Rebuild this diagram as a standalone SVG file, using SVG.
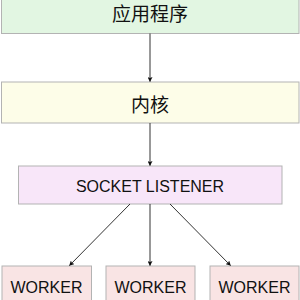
<svg xmlns="http://www.w3.org/2000/svg" width="300" height="300" viewBox="0 0 300 300">
<style>
.box{stroke:#b3b3b3;stroke-width:1}
.cjk{font-family:"Noto Sans CJK SC","Noto Sans",sans-serif;font-size:19px;fill:#111;text-anchor:middle}
.lat{font-family:"Liberation Sans",Arial,sans-serif;font-size:16px;fill:#111;text-anchor:middle}
.edge{stroke:#333;stroke-width:1;fill:none;marker-end:url(#ah)}
</style>
<defs>
<marker id="ah" viewBox="0 0 10 10" refX="9" refY="5" markerWidth="5" markerHeight="5" orient="auto" markerUnits="userSpaceOnUse">
<path d="M0,0 L10,5 L0,10 L2,5 z" fill="#111"/>
</marker>
</defs>
<rect width="300" height="300" fill="#fff"/>
<g id="app">
<rect class="box" x="1.5" y="-1" width="297.5" height="34.5" fill="#e2f6e2"/>
<text class="cjk" x="150" y="20.5">应用程序</text>
</g>
<g id="kernel">
<rect class="box" x="1.5" y="82" width="297.5" height="41" fill="#fdfde8"/>
<text class="cjk" x="150" y="111.5">内核</text>
</g>
<g id="listener">
<rect class="box" x="18.5" y="166" width="263.5" height="38" fill="#f8e6f9"/>
<text class="lat" x="150" y="191.5">SOCKET LISTENER</text>
</g>
<g id="worker1">
<rect class="box" x="2" y="266" width="89.5" height="40" fill="#f9e4e4"/>
<text class="lat" x="46.5" y="293">WORKER</text>
</g>
<g id="worker2">
<rect class="box" x="106" y="266" width="89" height="40" fill="#f9e4e4"/>
<text class="lat" x="150.5" y="293">WORKER</text>
</g>
<g id="worker3">
<rect class="box" x="210" y="266" width="89" height="40" fill="#f9e4e4"/>
<text class="lat" x="254.5" y="293">WORKER</text>
</g>
<g id="connectors">
<line class="edge" x1="150" y1="33.5" x2="150" y2="81.5"/>
<line class="edge" x1="150" y1="123" x2="150" y2="165.5"/>
<line class="edge" x1="130" y1="204" x2="69.5" y2="265.5"/>
<line class="edge" x1="150" y1="204" x2="150" y2="265.5"/>
<line class="edge" x1="170" y1="204" x2="230.5" y2="265.5"/>
</g>
</svg>
